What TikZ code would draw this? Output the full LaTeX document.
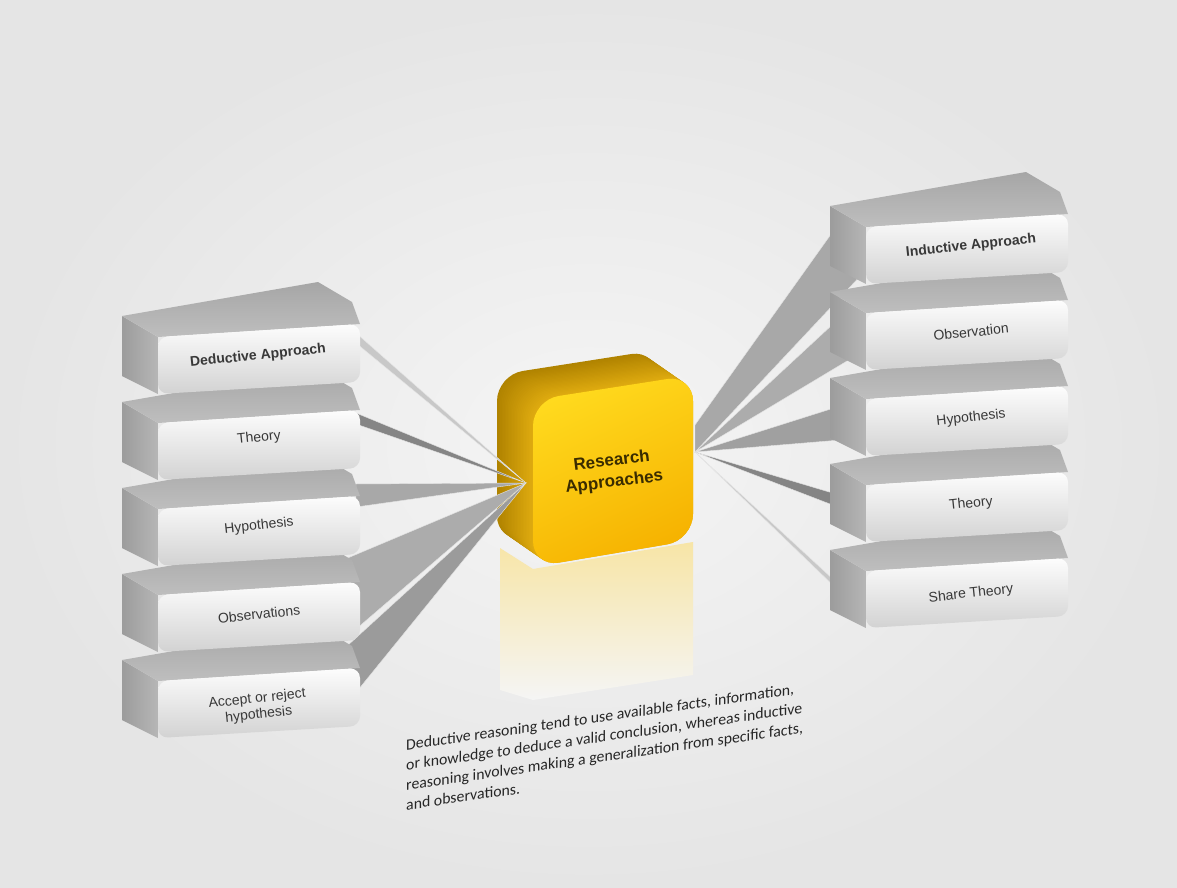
\documentclass[tikz,border=0pt]{standalone}
\usepackage{fontspec}
\setmainfont{Liberation Sans}
\newfontfamily\carlito{Carlito}
\definecolor{bgin}{HTML}{F5F5F5}
\definecolor{bgout}{HTML}{E5E5E5}
\definecolor{topA}{HTML}{A6A6A6}
\definecolor{topB}{HTML}{BEBEBE}
\definecolor{sideA}{HTML}{9C9C9C}
\definecolor{sideB}{HTML}{B6B6B6}
\definecolor{frontA}{HTML}{FDFDFD}
\definecolor{frontB}{HTML}{D2D2D2}
\definecolor{goldDark}{HTML}{B08300}
\definecolor{goldMid}{HTML}{E0AC10}
\definecolor{cubeA}{HTML}{FFDA1E}
\definecolor{cubeB}{HTML}{F6B200}
\definecolor{reflY}{HTML}{F7E5A6}
\definecolor{txtc}{HTML}{383838}
\definecolor{desctxt}{HTML}{262626}
\definecolor{cubetxt}{HTML}{3A2C00}
\definecolor{wLight}{HTML}{C8C8C8}
\definecolor{wDark}{HTML}{858585}
\definecolor{wMid}{HTML}{A8A8A8}
\tikzset{
  gblock/.pic={
    \shade[left color=sideA, right color=sideB] (-137,-44) -- (-101,-23) -- (-101,34) -- (-137,16) -- cycle;
    \shade[top color=topA, bottom color=topB] (-137,-44) -- (59,-78) -- (93,-58) -- (101,-36) -- (-101,-23) -- cycle;
    \shade[top color=frontA, bottom color=frontB, rounded corners=10pt] (-101,-23) -- (101,-36) -- (101,22) -- (-101,34) -- cycle;
  },
  lbl/.style={font=\fontsize{14}{16}\selectfont, text=txtc, rotate=6, align=center, inner sep=0pt},
  lblb/.style={lbl, font=\fontsize{14}{16}\selectfont\bfseries},
  wedge/.style={draw=white!80!gray, line width=0.4pt},
}
\begin{document}
\begin{tikzpicture}[x=1pt,y=-1pt]
\useasboundingbox (0,0) rectangle (1177,888);
\shade[inner color=bgin, outer color=bgout] (0,0) rectangle (1177,888);

% reflection of the cube
\shade[top color=reflY, bottom color=bgin] (500,548) -- (533,569) -- (693,542) -- (693,675) -- (533,700) -- (500,690) -- cycle;

% cube extrusion
\foreach \i in {0,...,24} {
  \pgfmathtruncatemacro\p{100*\i/24}
  \fill[goldMid!\p!goldDark, shift={({-36+1.5*\i},{-25+25*\i/24})}, rounded corners=26pt]
    (533,400) -- (693,375) -- (693,540) -- (533,567) -- cycle;
}
\shade[top color=cubeA, bottom color=cubeB, shading angle=25, rounded corners=26pt]
  (533,400) -- (693,375) -- (693,540) -- (533,567) -- cycle;
\node[font=\fontsize{17}{21}\selectfont\bfseries, text=cubetxt, align=center, rotate=7] (ra) at (613,472) {Research\\Approaches};

% hubs and connector ends
\coordinate (hubL) at (526,483);
\coordinate (hubR) at (695,452);
\coordinate (hubRt) at (695,425);
\coordinate (l1a) at (356,333); \coordinate (l1b) at (356,343);
\coordinate (l2a) at (356,413); \coordinate (l2b) at (356,424);
\coordinate (l3a) at (356,484); \coordinate (l3b) at (356,507);
\coordinate (l4a) at (343,560); \coordinate (l4b) at (348,636);
\coordinate (l5a) at (346,647); \coordinate (l5b) at (358,690);
\coordinate (r1a) at (834,230); \coordinate (r1b) at (864,272);
\coordinate (r2a) at (832,325); \coordinate (r2b) at (862,352);
\coordinate (r3a) at (834,408); \coordinate (r3b) at (840,440);
\coordinate (r4a) at (856,500); \coordinate (r4b) at (856,514);
\coordinate (r5a) at (836,582); \coordinate (r5b) at (838,590);

% left connectors
\fill[wLight, wedge] (hubL) -- (l1a) -- (l1b) -- cycle;
\fill[wDark, wedge] (hubL) -- (l2a) -- (l2b) -- cycle;
\fill[wMid, wedge] (hubL) -- (l3a) -- (l3b) -- cycle;
\fill[wMid!95!white, wedge] (hubL) -- (l4a) -- (l4b) -- cycle;
\fill[wMid!92!black, wedge] (hubL) -- (l5a) -- (l5b) -- cycle;
% right connectors
\fill[wMid, wedge] (hubRt) -- (r1a) -- (r1b) -- (hubR) -- cycle;
\fill[wMid!95!white, wedge] (hubR) -- (r2a) -- (r2b) -- cycle;
\fill[wMid!95!black, wedge] (hubR) -- (r3a) -- (r3b) -- cycle;
\fill[wDark, wedge] (hubR) -- (r4a) -- (r4b) -- cycle;
\fill[wLight, wedge] (hubR) -- (r5a) -- (r5b) -- cycle;

% left blocks (bottom to top)
\pic at (259,704) {gblock};
\pic at (259,618) {gblock};
\pic at (259,532) {gblock};
\pic at (259,446) {gblock};
\pic at (259,360) {gblock};
% right blocks (bottom to top)
\pic at (967,594) {gblock};
\pic at (967,508) {gblock};
\pic at (967,422) {gblock};
\pic at (967,336) {gblock};
\pic at (967,250) {gblock};

% labels
\node[lblb] (dedA) at (258,356) {Deductive Approach};
\node[lbl] (dedT) at (259,438) {Theory};
\node[lbl] (dedH) at (259,526) {Hypothesis};
\node[lbl] (dedO) at (259,614) {Observations};
\node[lbl] (dedR) at (258,707) {Accept or reject\\hypothesis};
\node[lblb] (indA) at (971,246) {Inductive Approach};
\node[lbl] (indO) at (971,332) {Observation};
\node[lbl] (indH) at (971,418) {Hypothesis};
\node[lbl] (indT) at (971,504) {Theory};
\node[lbl] (indS) at (971,594) {Share Theory};

% description
\node[font=\carlito\fontsize{15.8}{20}\selectfont, text=desctxt, align=left, anchor=north west, inner sep=0pt, yslant=0.144] (desc) at (406,739)
 {Deductive reasoning tend to use available facts, information,\\
  or knowledge to deduce a valid conclusion, whereas inductive\\
  reasoning involves making a generalization from specific facts,\\
  and observations.};
\end{tikzpicture}
\end{document}
